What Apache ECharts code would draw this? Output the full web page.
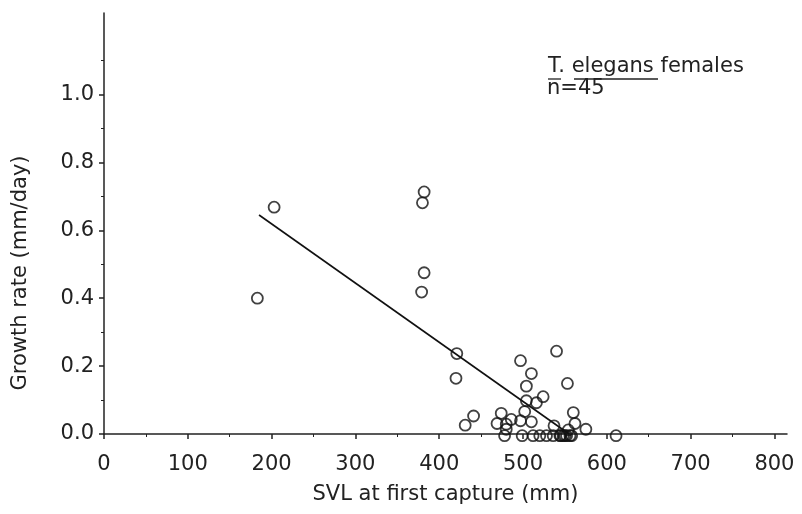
<!DOCTYPE html>
<html><head><meta charset="utf-8">
<script src="https://cdn.jsdelivr.net/npm/echarts@6/dist/echarts.min.js"></script>
<style>html,body{margin:0;padding:0;background:#fff}#c{width:802px;height:514px}</style>
</head><body><div id="c"></div>
<script>
const svl = [183,203,382,380,382,379,421,420,540,497,510,504,553,524,516,504,502,441,431,474,469,480,480,478,486,497,510,499,512,520,528,536,544,552,537,560,562,575,611,554,548,556,558,550,545];
const growth = [0.40,0.668,0.713,0.681,0.475,0.418,0.237,0.164,0.244,0.216,0.178,0.141,0.149,0.110,0.092,0.098,0.066,0.053,0.026,0.061,0.031,0.029,0.014,-0.005,0.043,0.039,0.036,-0.005,-0.005,-0.005,-0.005,-0.005,-0.005,-0.005,0.024,0.063,0.031,0.014,-0.005,0.012,-0.005,-0.005,-0.005,-0.005,-0.005];
const fitX = [185, 555];
const fitY = [0.645, 0.0];
const xTicks = [0,100,200,300,400,500,600,700,800];
const yTicks = [0,0.2,0.4,0.6,0.8,1.0];

const font = 'DejaVu Sans';
const fs = 21;
const chart = echarts.init(document.getElementById('c'));
chart.setOption({
  animation:false,
  backgroundColor:'#fff',
  grid:{left:104,right:15,top:13,bottom:80},
  xAxis:{type:'value',min:0,max:815,interval:100,
    name:'SVL at first capture (mm)',nameLocation:'middle',nameGap:50,
    nameTextStyle:{fontFamily:font,fontSize:fs,color:'#222'},
    axisLine:{show:true,onZero:false,lineStyle:{color:'#222',width:1.5}},
    axisTick:{show:true,customValues:xTicks,length:5,lineStyle:{color:'#222',width:1.5}},
    minorTick:{show:true,splitNumber:2,length:3,lineStyle:{color:'#222'}},
    axisLabel:{customValues:xTicks,fontFamily:font,fontSize:fs,color:'#222',margin:20},
    splitLine:{show:false}},
  yAxis:{type:'value',min:0,max:1.24,interval:0.2,
    axisLine:{show:true,onZero:false,lineStyle:{color:'#222',width:1.5}},
    axisTick:{show:true,customValues:yTicks,length:5,lineStyle:{color:'#222',width:1.5}},
    minorTick:{show:true,splitNumber:2,length:3,lineStyle:{color:'#222'}},
    axisLabel:{customValues:yTicks,formatter:v=>v.toFixed(1),fontFamily:font,fontSize:fs,color:'#222',margin:10},
    splitLine:{show:false}},
  series:[
    {type:'scatter',clip:false,data:svl.map((x,i)=>[x,growth[i]]),symbol:'circle',symbolSize:11,
     itemStyle:{color:'rgba(255,255,255,0)',borderColor:'#111',borderWidth:1.8},z:3},
    {type:'line',data:fitX.map((x,i)=>[x,fitY[i]]),symbol:'none',
     lineStyle:{color:'#111',width:1.6},z:2}
  ],
  graphic:[
    {type:'text',x:21,y:273,rotation:Math.PI/2,style:{text:'Growth rate (mm/day)',fontFamily:font,fontSize:fs,fill:'#222',align:'center',verticalAlign:'middle'}},
    {type:'text',left:548,top:56,style:{text:'T. elegans females',fontFamily:font,fontSize:fs,fill:'#222'}},
    {type:'text',left:547,top:78,style:{text:'n=45',fontFamily:font,fontSize:fs,fill:'#222'}},
    {type:'line',shape:{x1:548,y1:79,x2:561,y2:79},style:{stroke:'#222',lineWidth:1.3}},
    {type:'line',shape:{x1:574,y1:79,x2:658,y2:79},style:{stroke:'#222',lineWidth:1.3}}
  ]
});
</script></body></html>
